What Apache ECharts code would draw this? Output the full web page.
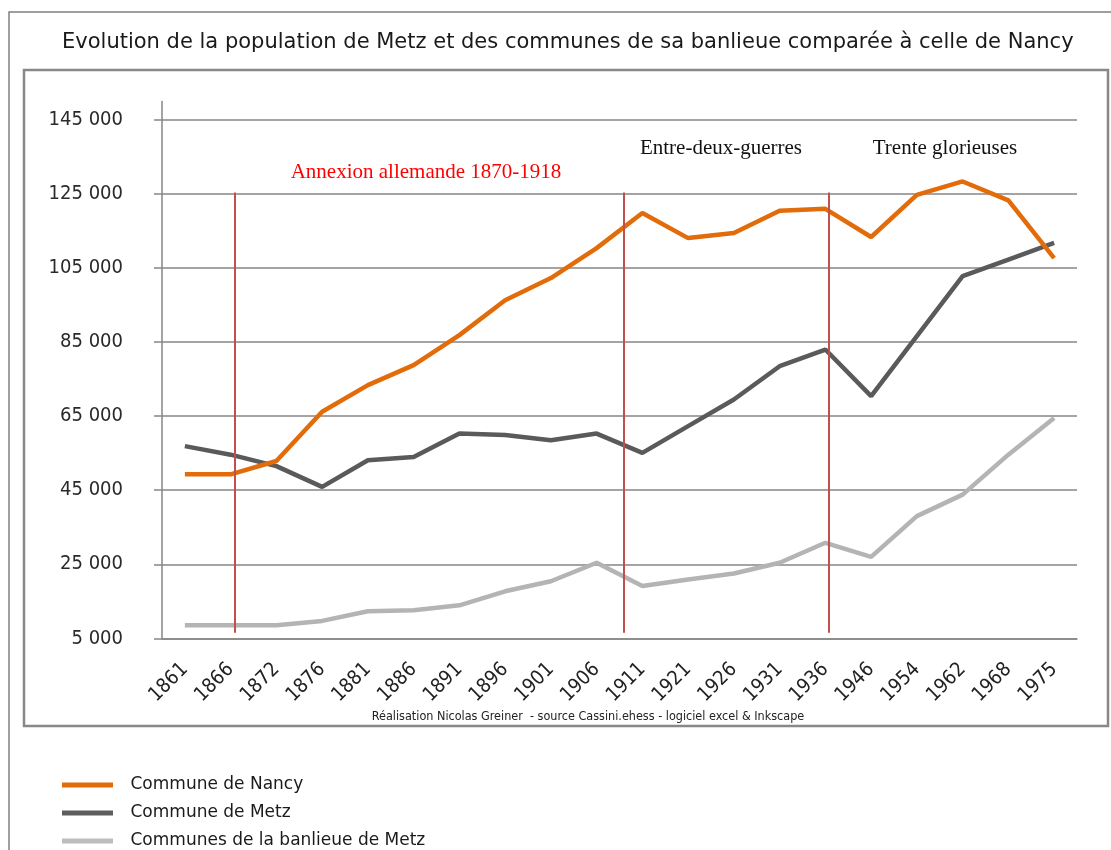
<!DOCTYPE html>
<html>
<head>
<meta charset="utf-8">
<script src="https://cdn.jsdelivr.net/npm/echarts@6/dist/echarts.min.js"></script>
<style>
  html, body { margin: 0; padding: 0; background: #fff; }
  #main { width: 1111px; height: 850px; }
</style>
</head>
<body>
<div id="main"></div>
<script>
// années des recensements
var annees = ['1861','1866','1872','1876','1881','1886','1891','1896','1901','1906',
              '1911','1921','1926','1931','1936','1946','1954','1962','1968','1975'];
// Commune de Nancy
var nancy = [49300,49300,52900,66200,73400,78800,86900,96300,102300,110400,
             119900,113100,114500,120500,121000,113400,124800,128400,123300,107700];
// Commune de Metz
var metz = [56900,54600,51500,45900,53100,54000,60300,59900,58500,60300,
            55100,62300,69500,78500,83000,70400,86600,102800,107300,111800];
// Communes de la banlieue de Metz
var banlieue = [8500,8500,8500,9700,12300,12600,13900,17700,20400,25400,
                19100,20900,22500,25400,30800,27000,38000,43800,54600,64500];
// graduations de l'axe des ordonnées
var yTicks = [5000,25000,45000,65000,85000,105000,125000,145000];
// limites des périodes (position en index de catégorie)
var periodesX = [1.09, 9.6, 14.07];
var periodeBas = 6500;
var periodeHaut = 125400;

var gris = '#868686';
var police = '"DejaVu Sans Condensed", "DejaVu Sans"';

var option = {
    animation: false,
    title: {
        text: 'Evolution de la population de Metz et des communes de sa banlieue comparée à celle de Nancy',
        left: 57,
        top: 27,
        textStyle: { fontFamily: 'DejaVu Sans', fontSize: 21, fontWeight: 'normal', color: '#1a1a1a' }
    },
    legend: {
        orient: 'vertical',
        left: 62,
        top: 776,
        height: 100,
        padding: 0,
        itemWidth: 51,
        itemHeight: 5,
        itemGap: 10,
        icon: 'rect',
        data: ['Commune de Nancy', 'Commune de Metz', 'Communes de la banlieue de Metz'],
        textStyle: { fontFamily: 'DejaVu Sans', fontSize: 17, color: '#1a1a1a', padding: [0, 0, 0, 12.5], lineHeight: 18 }
    },
    grid: { left: 162, right: 34, top: 101.5, bottom: 211.7 },
    xAxis: [{
        type: 'category',
        data: annees,
        boundaryGap: true,
        axisLine: { lineStyle: { color: gris, width: 1.5 } },
        axisTick: { interval: 0, length: 8, lineStyle: { color: gris, width: 1.5 } },
        axisLabel: { interval: 0, rotate: 45, margin: 28, fontFamily: police, fontSize: 20, color: '#222' }
    }, {
        type: 'value',
        min: -0.5,
        max: 19.5,
        show: false
    }],
    yAxis: {
        type: 'value',
        min: 5000,
        max: 150000,
        interval: 20000,
        axisLine: { show: true, onZero: false, lineStyle: { color: gris, width: 1.5 } },
        axisTick: { show: true, length: 8, customValues: yTicks, lineStyle: { color: gris, width: 1.5 } },
        axisLabel: {
            margin: 39,
            customValues: yTicks,
            fontFamily: police, fontSize: 20, color: '#2a2a2a',
            formatter: function (v) { return String(v).replace(/\B(?=(\d{3})+(?!\d))/g, ' '); }
        },
        splitLine: { show: true, lineStyle: { color: gris, width: 1.5 } }
    },
    graphic: [
        { type: 'rect', shape: { x: 9, y: 12, width: 1200, height: 1000 }, style: { fill: 'none', stroke: '#808080', lineWidth: 1.5 }, silent: true },
        { type: 'rect', shape: { x: 24, y: 70, width: 1084, height: 656 }, style: { fill: 'none', stroke: '#888', lineWidth: 2.5 }, silent: true },
        { type: 'text', x: 426, y: 172, style: { text: 'Annexion allemande 1870-1918', fill: '#ff0000', font: '21px "Liberation Serif"', textAlign: 'center', textVerticalAlign: 'middle' } },
        { type: 'text', x: 721, y: 148, style: { text: 'Entre-deux-guerres', fill: '#111', font: '21px "Liberation Serif"', textAlign: 'center', textVerticalAlign: 'middle' } },
        { type: 'text', x: 945, y: 148, style: { text: 'Trente glorieuses', fill: '#111', font: '21px "Liberation Serif"', textAlign: 'center', textVerticalAlign: 'middle' } },
        { type: 'text', x: 588, y: 717, style: { text: 'Réalisation Nicolas Greiner  - source Cassini.ehess - logiciel excel & Inkscape', fill: '#222', font: '12.5px ' + police, textAlign: 'center', textVerticalAlign: 'middle' } }
    ],
    series: [
        {
            name: 'Communes de la banlieue de Metz',
            type: 'line',
            data: banlieue,
            symbol: 'none',
            lineStyle: { color: '#b4b4b4', width: 4.5 },
            itemStyle: { color: '#bdbdbd' }
        },
        {
            name: 'Commune de Metz',
            type: 'line',
            data: metz,
            symbol: 'none',
            lineStyle: { color: '#5a5a5a', width: 4.5 },
            itemStyle: { color: '#5e5e5e' }
        },
        {
            name: 'Commune de Nancy',
            type: 'line',
            data: nancy,
            symbol: 'none',
            lineStyle: { color: '#e36c0a', width: 4.5 },
            itemStyle: { color: '#e36c0a' }
        },
        {
            // limites des périodes historiques
            type: 'lines',
            coordinateSystem: 'cartesian2d',
            xAxisIndex: 1,
            yAxisIndex: 0,
            z: 5,
            silent: true,
            lineStyle: { color: '#c0504d', width: 2, opacity: 1 },
            data: periodesX.map(function (x) {
                return { coords: [[x, periodeBas], [x, periodeHaut]] };
            })
        }
    ]
};

var myChart = echarts.init(document.getElementById('main'));
myChart.setOption(option);
</script>
</body>
</html>
